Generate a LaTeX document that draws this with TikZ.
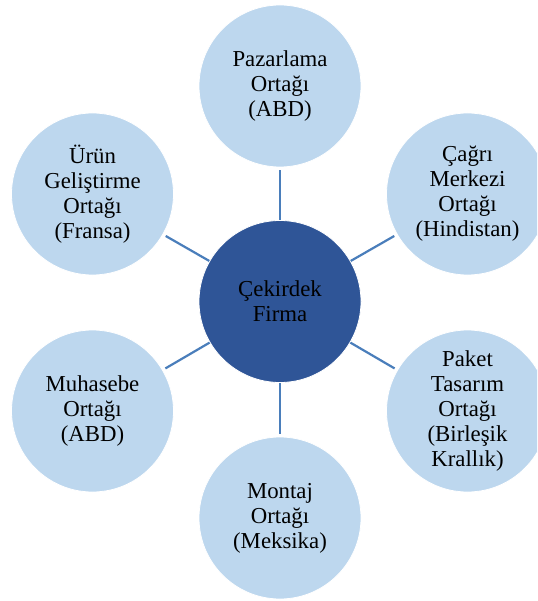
\documentclass[tikz,border=0pt]{standalone}
\usepackage{fontspec}
\setmainfont{Liberation Serif}
\usetikzlibrary{backgrounds}
\definecolor{partnerfill}{HTML}{BDD7EE}
\definecolor{corefill}{HTML}{2F5597}
\definecolor{linkblue}{HTML}{4A7EBB}
\begin{document}
\begin{tikzpicture}[x=1pt,y=-1pt,
  partner/.style={circle, fill=partnerfill, draw=white, line width=0.8pt,
    minimum size=162pt, inner sep=0pt, align=center,
    font=\fontsize{22.8}{25}\selectfont},
  core/.style={partner, fill=corefill},
  link/.style={draw=linkblue, line width=2.2pt, shorten <=-1pt, shorten >=3pt}]
\useasboundingbox (0,0) rectangle (537,601);
\clip (0,0) rectangle (537,601);

% hub and partner firms
\node[core]    (core) at (280,301.5) {Çekirdek\\Firma};
\node[partner] (mkt)  at (280,86)    {Pazarlama\\Ortağı\\(ABD)};
\node[partner] (rnd)  at (92.5,194)  {Ürün\\Geliştirme\\Ortağı\\(Fransa)};
\node[partner] (call) at (467.5,194) {Çağrı\\Merkezi\\Ortağı\\(Hindistan)};
\node[partner] (acc)  at (92.5,411)  {Muhasebe\\Ortağı\\(ABD)};
\node[partner] (pkg)  at (467.5,411) {Paket\\Tasarım\\Ortağı\\(Birleşik\\Krallık)};
\node[partner] (asm)  at (280,518)   {Montaj\\Ortağı\\(Meksika)};

% spokes from the hub
\begin{scope}[on background layer]
  \foreach \p in {mkt,rnd,call,acc,pkg,asm}
    \draw[link] (core) -- (\p);
\end{scope}
\end{tikzpicture}
\end{document}
